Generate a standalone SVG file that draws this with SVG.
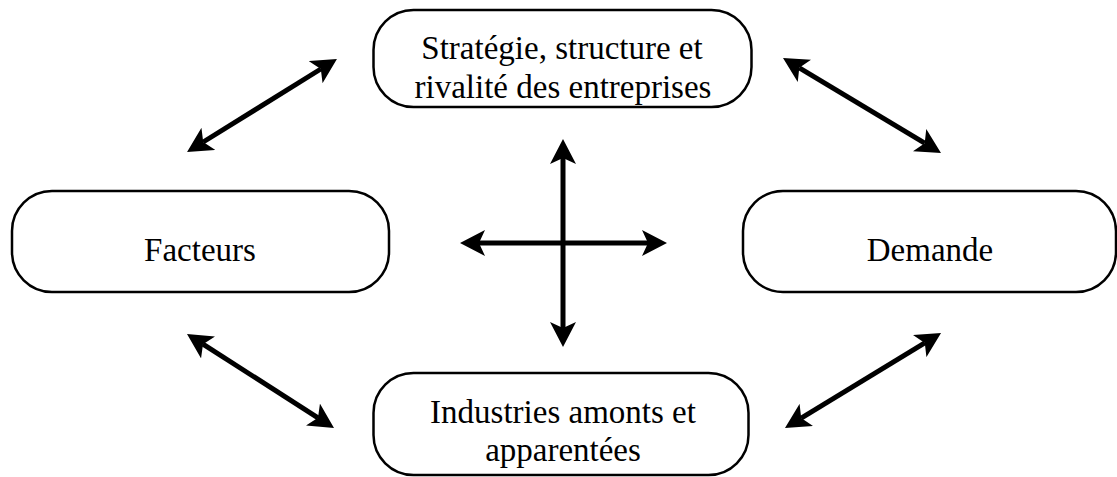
<svg xmlns="http://www.w3.org/2000/svg" width="1117" height="477" viewBox="0 0 1117 477">
<style>
.box{fill:#fff;stroke:#000;stroke-width:2.5}
.lbl{font-family:"Liberation Serif","Times New Roman",serif;font-size:33px;fill:#000;text-anchor:middle}
.arr{stroke:#000;stroke-width:5;fill:none;marker-start:url(#ah);marker-end:url(#ah)}
</style>
<defs>
<marker id="ah" viewBox="0 0 25 26" markerUnits="userSpaceOnUse" markerWidth="25" markerHeight="26" refX="6" refY="13" orient="auto-start-reverse">
<path d="M25,13 L0,0 L6,13 L0,26 Z" fill="#000"/>
</marker>
</defs>
<rect width="1117" height="477" fill="#fff"/>
<g id="strategie">
<rect class="box" x="373.5" y="10" width="378" height="97" rx="40" ry="40"/>
<text class="lbl" x="562" y="59">Stratégie, structure et</text>
<text class="lbl" x="563" y="98">rivalité des entreprises</text>
</g>
<g id="facteurs">
<rect class="box" x="12" y="191" width="377" height="101" rx="40" ry="40"/>
<text class="lbl" x="200" y="261">Facteurs</text>
</g>
<g id="demande">
<rect class="box" x="743" y="191" width="373" height="101" rx="40" ry="40"/>
<text class="lbl" x="930" y="261">Demande</text>
</g>
<g id="industries">
<rect class="box" x="373.5" y="373" width="375" height="102" rx="40" ry="40"/>
<text class="lbl" x="563" y="423">Industries amonts et</text>
<text class="lbl" x="563" y="461">apparentées</text>
</g>
<g id="connectors">
<line class="arr" x1="563" y1="158" x2="563" y2="328"/>
<line class="arr" x1="479" y1="243" x2="648" y2="243"/>
<line class="arr" x1="203.2" y1="142" x2="320.8" y2="69"/>
<line class="arr" x1="799.3" y1="67.8" x2="924.7" y2="143.2"/>
<line class="arr" x1="203" y1="344.2" x2="318" y2="417.8"/>
<line class="arr" x1="801.2" y1="418.1" x2="924.8" y2="342.9"/>
</g>
</svg>
